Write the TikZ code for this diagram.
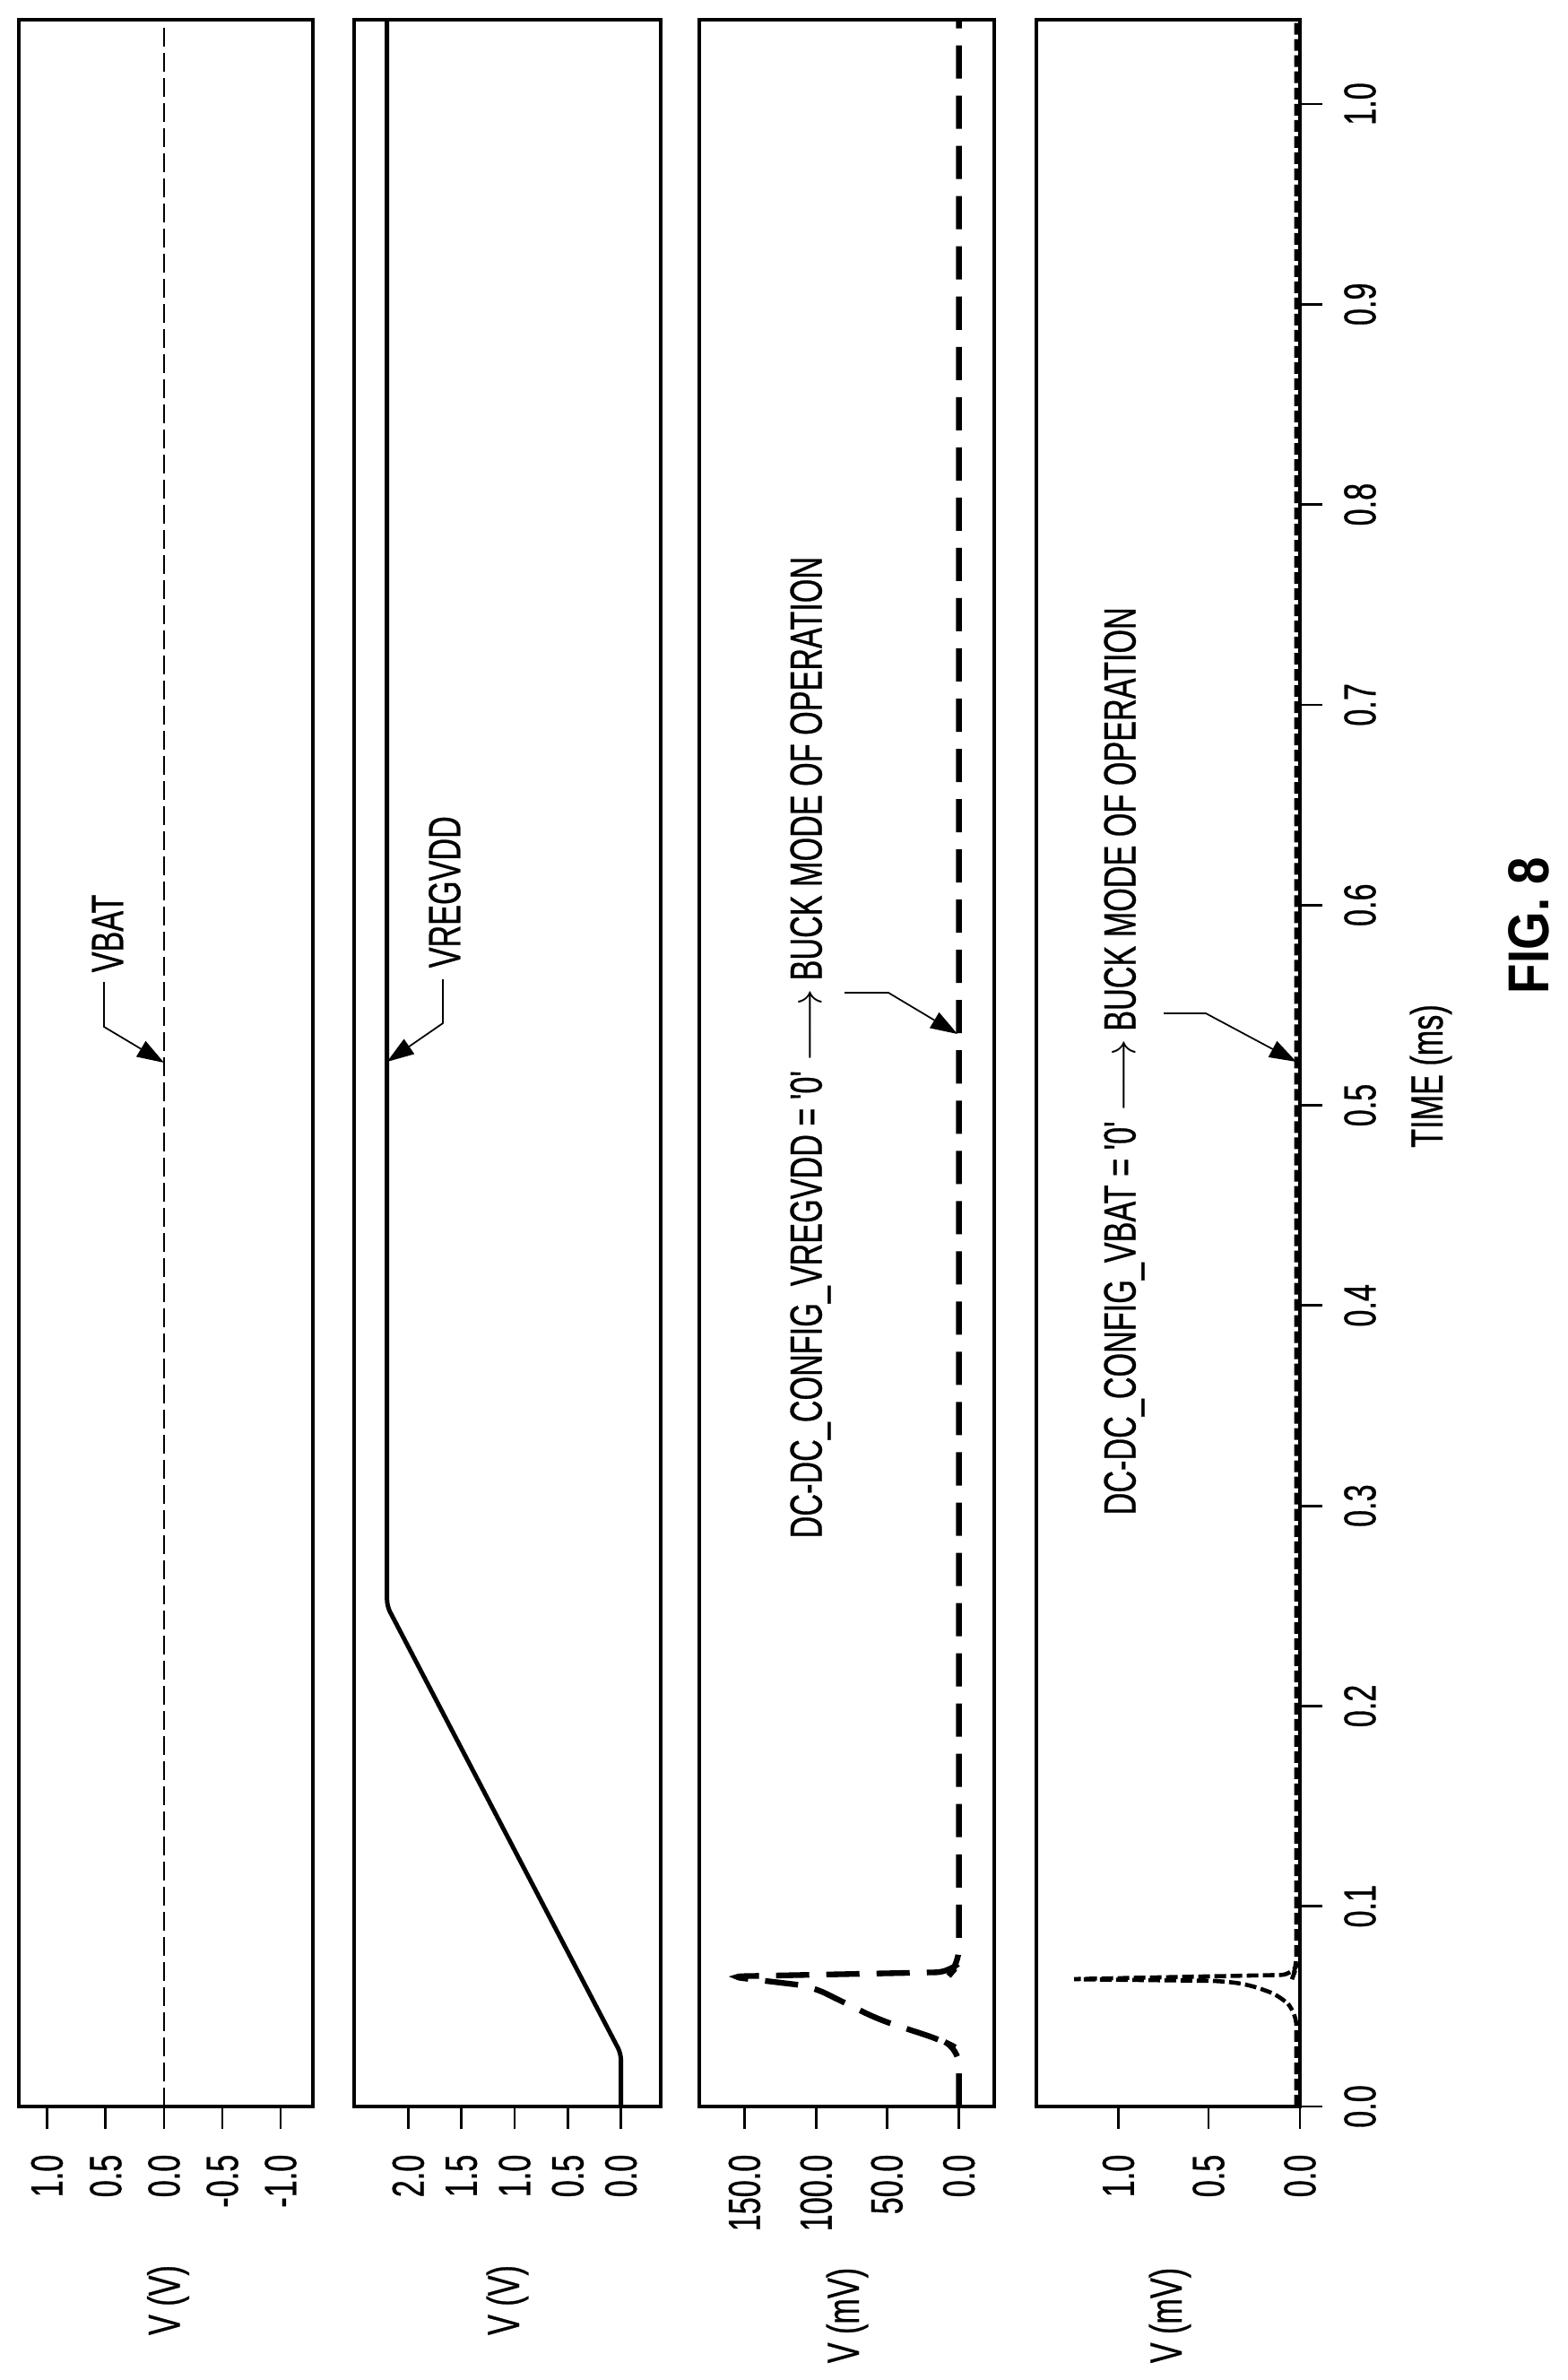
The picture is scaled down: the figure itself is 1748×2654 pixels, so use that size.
\documentclass[tikz,border=0pt]{standalone}
\usepackage{fontspec}
\usetikzlibrary{arrows.meta}
\newfontfamily\cond[FakeStretch=0.68,FakeBold=0.6]{Liberation Sans}
\newfontfamily\condb[FakeStretch=0.85]{Liberation Sans Bold}
\begin{document}
\begin{tikzpicture}[x=0.01cm,y=-0.01cm,
  frame/.style={line width=1pt},
  tick/.style={line width=0.8pt},
  lbl/.style={font=\cond\fontsize{14.3}{16}\selectfont, inner sep=0pt},
  rlbl/.style={lbl, rotate=90},
  lead/.style={line width=0.5pt},
  arr/.style={lead,-{Triangle[length=0.3cm,width=0.2cm]}}]
\useasboundingbox (0,0) rectangle (1748,2654);
% panels
\draw[frame] (21,22) rectangle (349,2349);
\draw[frame] (395,22) rectangle (737,2349);
\draw[frame] (780,22) rectangle (1109,2349);
\draw[frame] (1156,22) rectangle (1450,2349);
% y ticks + labels
\foreach \x/\t in {52.4/1.0,117.9/0.5,183/0.0,248/-0.5,313/-1.0}
  {\draw[tick] (\x,2349) -- (\x,2374); \node[rlbl,anchor=east] at (\x,2402) {\t};}
\foreach \x/\t in {455.4/2.0,514.7/1.5,574/1.0,633.3/0.5,692.6/0.0}
  {\draw[tick] (\x,2349) -- (\x,2374); \node[rlbl,anchor=east] at (\x,2402) {\t};}
\foreach \x/\t in {830.4/150.0,910.3/100.0,989.2/50.0,1069.6/0.0}
  {\draw[tick] (\x,2349) -- (\x,2374); \node[rlbl,anchor=east] at (\x,2402) {\t};}
\foreach \x/\t in {1247.5/1.0,1348/0.5,1450/0.0}
  {\draw[tick] (\x,2349) -- (\x,2374); \node[rlbl,anchor=east] at (\x,2402) {\t};}
\node[rlbl] (y1) at (187.5,2565) {V (V)};
\node[rlbl] (y2) at (566,2565) {V (V)};
\node[rlbl] (y3) at (945,2582) {V (mV)};
\node[rlbl] (y4) at (1305,2582) {V (mV)};
% time axis
\foreach \i/\tl in {0/0.0,1/0.1,2/0.2,3/0.3,4/0.4,5/0.5,6/0.6,7/0.7,8/0.8,9/0.9,10/1.0}{
  \pgfmathsetmacro{\yy}{2349-223.3*\i}
  \draw[tick] (1450,\yy) -- (1475,\yy);
  \node[rlbl] at (1517,\yy) {\tl};
}
\node[rlbl] (tl) at (1596,1200) {TIME (ms)};
\node[rotate=90,inner sep=0pt,font=\condb\fontsize{18.3}{20}\selectfont] (fig) at (1705,1032) {FIG. 8};
% VBAT
\draw[line width=0.5pt,dash pattern=on 0.21cm off 0.07cm] (183,2349) -- (183,22);
\coordinate (vb) at (183,1185);
\node[rlbl,anchor=west] (vbat) at (120,1085) {VBAT};
\draw[arr] (116,1095) -- (116,1145) -- (vb);
% VREGVDD
\draw[line width=1.4pt,rounded corners=2pt] (692.6,2349) -- (692.6,2290) -- (431.7,1791) -- (431.7,22);
\coordinate (vr) at (431.7,1184);
\node[rlbl,anchor=west] (vreg) at (496,1080) {VREGVDD};
\draw[arr] (494,1092) -- (494,1141) -- (vr);
% panel 3 waveform
\draw[line width=1.8pt,dash pattern=on 0.37cm off 0.19cm,rounded corners=5pt]
  (1069.6,2349) -- (1069.6,2285) -- (1050,2275) -- (980,2252) -- (905,2215) -- (812,2204)
  -- (1062,2199) -- (1069.6,2190) -- (1069.6,22);
\node[rlbl,anchor=west] (t3) at (904,1716) {DC-DC\_CONFIG\_VREGVDD = '0' \ensuremath{\longrightarrow} BUCK MODE OF OPERATION};
\coordinate (a3) at (1068,1153);
\draw[arr] (942,1107) -- (991,1107) -- (a3);
% panel 4 waveform
\draw[line width=1.3pt,dash pattern=on 0.13cm off 0.05cm,rounded corners=4pt]
  (1446,2349) -- (1446,2245) -- (1429,2226) -- (1393,2213) -- (1362,2209) -- (1190,2207)
  -- (1443,2202) -- (1446,2194) -- (1446,22);
\node[rlbl,anchor=west] (t4) at (1254,1690) {DC-DC\_CONFIG\_VBAT = '0' \ensuremath{\longrightarrow} BUCK MODE OF OPERATION};
\coordinate (a4) at (1446,1184);
\draw[arr] (1298,1130) -- (1345,1130) -- (a4);
\end{tikzpicture}
\end{document}
